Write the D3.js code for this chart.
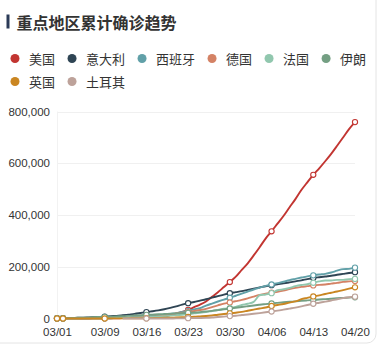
<!DOCTYPE html>
<html>
<head>
<meta charset="utf-8">
<script src="https://cdn.jsdelivr.net/npm/d3@7"></script>
<style>
  html, body { margin: 0; padding: 0; background: #ffffff; }
  svg { display: block; font-family: "Liberation Sans", Arial, "Noto Sans CJK SC", sans-serif; }
</style>
</head>
<body>
<svg id="chart" width="377" height="346"></svg>
<script>
const title = "重点地区累计确诊趋势";
const seriesNames = ["美国", "意大利", "西班牙", "德国", "法国", "伊朗", "英国", "土耳其"];
const seriesColors = ["#c23531", "#2f4554", "#61a0a8", "#d48265", "#91c7ae", "#749f83", "#ca8622", "#bda29a"];
const startDate = "2020-03-01";
const dayCount = 51;
const tickLabels = ["03/01", "03/09", "03/16", "03/23", "03/30", "04/06", "04/13", "04/20"];
const markerLabels = ["03/01", "03/02", "03/09", "03/16", "03/23", "03/30", "04/06", "04/13", "04/20"];
const yTicks = [0, 200000, 400000, 600000, 800000];

const usa = [68, 75, 100, 124, 158, 221, 319, 435, 541, 704, 994, 1301, 1630, 2183, 2770, 3613, 4596, 6344, 7764, 13680, 19101, 25493, 33276, 43847, 53740, 65778, 83836, 101657, 121478, 140886, 161807, 188172, 213372, 243762, 275586, 308853, 337072, 366667, 396223, 429052, 461437, 496535, 526396, 555313, 580619, 607670, 636350, 667592, 699706, 732197, 759086];
const italy = [1128, 1694, 2036, 2502, 3089, 3858, 4636, 5883, 7375, 9172, 10149, 12462, 15113, 17660, 21157, 24747, 27980, 31506, 35713, 41035, 47021, 53578, 59138, 63927, 69176, 74386, 80589, 86498, 92472, 97689, 101739, 105792, 110574, 115242, 119827, 124632, 128948, 132547, 135586, 139422, 143626, 147577, 152271, 156363, 159516, 162488, 165155, 168941, 172434, 175925, 178972];
const spain = [45, 84, 120, 165, 222, 259, 400, 500, 673, 1073, 1695, 2277, 3146, 5232, 6391, 7798, 9942, 11748, 13910, 17963, 20410, 25374, 28768, 35136, 39885, 49515, 57786, 65719, 73235, 80110, 87956, 95923, 104118, 112065, 119199, 126168, 131646, 136675, 141942, 148220, 153222, 158273, 163027, 166831, 170099, 172541, 177644, 184948, 190839, 191726, 196500];
const germany = [79, 130, 159, 196, 262, 482, 670, 799, 1040, 1176, 1457, 1908, 2078, 3675, 4585, 5795, 7272, 9257, 12327, 15320, 19848, 22213, 24873, 29056, 32986, 37323, 43938, 50871, 57695, 62095, 66885, 71808, 77872, 84794, 91159, 96092, 100123, 103374, 107663, 113296, 118181, 122171, 124908, 127854, 130072, 131359, 134753, 137698, 141397, 143342, 145184];
const france = [100, 130, 191, 204, 288, 380, 656, 959, 1136, 1219, 1794, 2293, 2293, 3681, 4499, 4523, 6668, 7699, 9105, 10947, 12726, 14431, 16176, 19856, 22304, 25233, 29155, 32964, 37575, 40174, 44550, 52128, 56989, 64338, 89953, 92839, 98010, 109069, 112950, 117749, 124869, 129654, 132591, 137875, 143303, 147091, 147065, 149130, 149149, 152000, 153000];
const iran = [593, 978, 1501, 2336, 2922, 3513, 4747, 5823, 6566, 7161, 8042, 9000, 10075, 11364, 12729, 13938, 14991, 16169, 17361, 18407, 19644, 20610, 21638, 23049, 24811, 27017, 29406, 32332, 35408, 38309, 41495, 44605, 47593, 50468, 53183, 55743, 58226, 60500, 62589, 64586, 66220, 68192, 70029, 71686, 73303, 74877, 76389, 77995, 79494, 80868, 82211];
const uk = [23, 36, 40, 51, 86, 116, 164, 207, 274, 322, 384, 459, 596, 802, 1144, 1145, 1551, 1960, 2642, 2716, 4014, 5067, 5745, 6726, 8164, 9640, 11812, 14745, 17312, 19780, 22453, 25481, 29865, 34173, 38689, 42477, 48436, 52279, 55949, 61474, 65872, 74605, 79874, 85206, 89570, 94845, 99483, 104145, 109769, 115314, 120500];
const turkey = [null, null, null, null, null, null, null, null, null, null, null, 1, 1, 5, 5, 6, 18, 47, 98, 192, 359, 670, 1236, 1529, 1872, 2433, 3629, 5698, 7402, 9217, 10827, 13531, 15679, 18135, 20921, 23934, 27069, 30217, 34109, 38226, 42282, 47029, 52167, 56956, 61049, 65111, 69392, 74193, 78546, 82329, 84500];

const seriesValues = [usa, italy, spain, germany, france, iran, uk, turkey];

const svg = d3.select("#chart");

// card
svg.append("rect")
  .attr("x", -12).attr("y", -10)
  .attr("width", 388).attr("height", 353)
  .attr("rx", 9)
  .attr("fill", "#ffffff")
  .attr("stroke", "#e4e4e4")
  .attr("stroke-width", 1);

// title
svg.append("rect").attr("x", 6.5).attr("y", 14.5).attr("width", 3).attr("height", 14).attr("fill", "#2b3a57");
svg.append("text")
  .attr("x", 16.5).attr("y", 22)
  .attr("dominant-baseline", "central")
  .attr("font-size", 16).attr("font-weight", "bold")
  .attr("fill", "#333333")
  .attr("font-family", "'Noto Sans CJK SC', sans-serif")
  .text(title);

// legend
const legend = svg.append("g");
let lx = 15, ly = 58.5;
seriesNames.forEach((name, i) => {
  const g = legend.append("g");
  const t = g.append("text")
    .attr("font-size", 13).attr("fill", "#333333")
    .attr("font-family", "'Noto Sans CJK SC', sans-serif")
    .attr("dominant-baseline", "central")
    .text(name);
  const w = t.node().getComputedTextLength();
  if (lx + 14 + w > 368) { lx = 15; ly += 23; }
  g.append("circle").attr("cx", lx).attr("cy", ly).attr("r", 4.5).attr("fill", seriesColors[i]);
  t.attr("x", lx + 14).attr("y", ly);
  lx = lx + 14 + w + 17;
});

// scales
const parse = d3.utcParse("%Y-%m-%d");
const d0 = parse(startDate);
const dates = d3.range(dayCount).map(i => d3.utcDay.offset(d0, i));
const fmt = d3.utcFormat("%m/%d");
const x = d3.scaleUtc().domain([dates[0], dates[dates.length - 1]]).range([57, 355]);
const y = d3.scaleLinear().domain([0, 800000]).range([318.5, 111.5]);

// grid
const grid = svg.append("g");
grid.selectAll("line.h").data(yTicks.slice(1)).join("line")
  .attr("x1", 57).attr("x2", 355)
  .attr("y1", d => Math.round(y(d)) + 0.5).attr("y2", d => Math.round(y(d)) + 0.5)
  .attr("stroke", "#f0f0f0").attr("stroke-width", 1);
grid.append("line").attr("x1", 57.5).attr("x2", 57.5).attr("y1", y(800000)).attr("y2", y(0))
  .attr("stroke", "#f2f2f2");

// y axis
const yAxis = d3.axisLeft(y).tickValues(yTicks).tickFormat(d3.format(",")).tickSize(0).tickPadding(0);
const yg = svg.append("g").attr("transform", "translate(50,0)").call(yAxis);
yg.select(".domain").remove();
yg.selectAll("text").attr("font-size", 11.5).attr("fill", "#333333").attr("font-family", "'Liberation Sans', Arial, sans-serif");

// x axis
const tickDates = tickLabels.map(s => dates.find(d => fmt(d) === s));
const xAxis = d3.axisBottom(x).tickValues(tickDates).tickFormat(fmt).tickSize(0).tickPadding(0);
const xg = svg.append("g").attr("transform", "translate(0,327.5)").call(xAxis);
xg.select(".domain").remove();
xg.selectAll("text").attr("font-size", 11.5).attr("fill", "#333333").attr("font-family", "'Liberation Sans', Arial, sans-serif");

// series
const line = d3.line()
  .defined(d => d.v !== null)
  .x(d => x(d.date)).y(d => y(d.v))
  .curve(d3.curveMonotoneX);

seriesValues.forEach((vals, i) => {
  const pts = vals.map((v, j) => ({ date: dates[j], v }));
  const g = svg.append("g");
  g.append("path").datum(pts)
    .attr("d", line)
    .attr("fill", "none")
    .attr("stroke", seriesColors[i])
    .attr("stroke-width", 1.9)
    .attr("stroke-linejoin", "round");
  const marks = pts.filter(p => p.v !== null && markerLabels.includes(fmt(p.date)));
  g.selectAll("circle").data(marks).join("circle")
    .attr("cx", d => x(d.date)).attr("cy", d => y(d.v))
    .attr("r", 2.6)
    .attr("fill", "#ffffff")
    .attr("stroke", seriesColors[i])
    .attr("stroke-width", 1.1);
});
</script>
</body>
</html>
